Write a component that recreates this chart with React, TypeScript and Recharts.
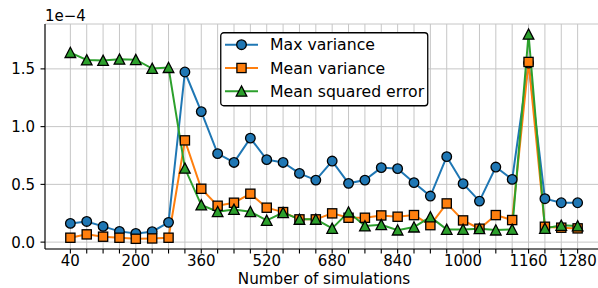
import { CartesianGrid, Legend, Line, LineChart, XAxis, YAxis } from 'recharts'

const simulations = [
  40, 80, 120, 160, 200, 240, 280, 320, 360, 400, 440, 480, 520, 560, 600, 640,
  680, 720, 760, 800, 840, 880, 920, 960, 1000, 1040, 1080, 1120, 1160, 1200, 1240, 1280,
]
// values in units of 1e-4
const maxVariance = [
  0.162, 0.179, 0.136, 0.093, 0.075, 0.09, 0.171, 1.473, 1.13, 0.766, 0.69, 0.9, 0.714, 0.69, 0.595, 0.537,
  0.702, 0.509, 0.537, 0.645, 0.636, 0.515, 0.399, 0.74, 0.506, 0.355, 0.65, 0.543, 1.55, 0.376, 0.341, 0.341,
]
const meanVariance = [
  0.038, 0.067, 0.047, 0.038, 0.029, 0.032, 0.038, 0.881, 0.462, 0.315, 0.341, 0.419, 0.298, 0.26, 0.197, 0.197,
  0.249, 0.211, 0.211, 0.231, 0.22, 0.234, 0.147, 0.335, 0.188, 0.116, 0.234, 0.191, 1.56, 0.133, 0.125, 0.119,
]
const meanSquaredError = [
  1.641, 1.577, 1.572, 1.583, 1.58, 1.503, 1.511, 0.639, 0.321, 0.263, 0.283, 0.263, 0.188, 0.255, 0.197, 0.197,
  0.119, 0.26, 0.139, 0.151, 0.104, 0.13, 0.217, 0.11, 0.11, 0.116, 0.104, 0.11, 1.8, 0.119, 0.145, 0.139,
]
const xTickLabels = [40, 200, 360, 520, 680, 840, 1000, 1160, 1280]
const yTicks = [0, 0.5, 1.0, 1.5]

const data = simulations.map((n, i) => ({
  n,
  maxVariance: maxVariance[i],
  meanVariance: meanVariance[i],
  mse: meanSquaredError[i],
}))

// matplotlib-style 5% margins
const allValues = [...maxVariance, ...meanVariance, ...meanSquaredError]
const yMin = Math.min(...allValues)
const yMax = Math.max(...allValues)
const yPad = (yMax - yMin) * 0.05
const xFirst = simulations[0]
const xLast = simulations[simulations.length - 1]
const xPad = (xLast - xFirst) * 0.05

const FONT = 'DejaVu Sans'

type Shape = 'circle' | 'square' | 'triangle'

const Marker = ({ cx, cy, fill, shape }: { cx: number; cy: number; fill: string; shape: Shape }) => {
  if (shape === 'circle')
    return <circle cx={cx} cy={cy} r={4.8} fill={fill} stroke="#000" strokeWidth={1.3} />
  if (shape === 'square')
    return <rect x={cx - 4.6} y={cy - 4.6} width={9.2} height={9.2} fill={fill} stroke="#000" strokeWidth={1.3} />
  return (
    <polygon
      points={`${cx},${cy - 5.3} ${cx - 5.3},${cy + 4.9} ${cx + 5.3},${cy + 4.9}`}
      fill={fill}
      stroke="#000"
      strokeWidth={1.3}
      strokeLinejoin="miter"
    />
  )
}

const series: Array<{ key: string; name: string; color: string; shape: Shape }> = [
  { key: 'maxVariance', name: 'Max variance', color: '#1f77b4', shape: 'circle' },
  { key: 'meanVariance', name: 'Mean variance', color: '#ff7f0e', shape: 'square' },
  { key: 'mse', name: 'Mean squared error', color: '#2ca02c', shape: 'triangle' },
]

const XTick = ({ x, y, payload }: any) =>
  xTickLabels.includes(payload.value) ? (
    <text x={x} y={y} dy="0.71em" textAnchor="middle" fontSize={15} fontFamily={FONT} fill="#000">
      {payload.value}
    </text>
  ) : (
    <g />
  )

const YTick = ({ x, y, payload }: any) => (
  <text x={x} y={y} dy="0.36em" textAnchor="end" fontSize={15} fontFamily={FONT} fill="#000">
    {payload.value.toFixed(1)}
  </text>
)

const LegendBox = () => (
  <svg width={209} height={75} style={{ display: 'block' }}>
    <rect x={0.75} y={0.75} width={207} height={73} rx={3} fill="#fff" stroke="#000" strokeWidth={1.3} />
    {series.map((s, i) => {
      const cy = 12.7 + i * 23.3
      return (
        <g key={s.key}>
          <line x1={5} x2={38} y1={cy} y2={cy} stroke={s.color} strokeWidth={2} />
          <Marker cx={21.5} cy={cy} fill={s.color} shape={s.shape} />
          <text x={50} y={cy} dy="0.36em" fontSize={15.7} fontFamily={FONT} fill="#000">
            {s.name}
          </text>
        </g>
      )
    })}
  </svg>
)

export default function App() {
  return (
    <div style={{ position: 'absolute', left: 0, top: 0, width: 598, height: 288, overflow: 'hidden', background: '#fff' }}>
      <LineChart width={620} height={288} data={data} margin={{ top: 24, right: 17, left: 0, bottom: 0 }}>
        <CartesianGrid stroke="#c6c6c6" strokeWidth={1} />
        <XAxis
          dataKey="n"
          type="number"
          domain={[xFirst - xPad, xLast + xPad]}
          ticks={simulations}
          interval={0}
          height={39}
          tick={<XTick />}
          tickSize={4.5}
          tickMargin={2.2}
          stroke="#000"
          axisLine={{ stroke: '#000', strokeWidth: 1.1 }}
          tickLine={{ stroke: '#000', strokeWidth: 1.1 }}
          label={({ viewBox }: any) => (
            <text
              x={viewBox.x + viewBox.width / 2}
              y={viewBox.y + 35.3}
              textAnchor="middle"
              fontSize={15.2}
              fontFamily={FONT}
              fill="#000"
            >
              Number of simulations
            </text>
          )}
        />
        <XAxis
          xAxisId="top"
          orientation="top"
          dataKey="n"
          type="number"
          domain={[xFirst - xPad, xLast + xPad]}
          height={0}
          tick={false}
          tickLine={false}
          axisLine={{ stroke: '#000', strokeWidth: 1.1 }}
        />
        <YAxis
          type="number"
          domain={[yMin - yPad, yMax + yPad]}
          ticks={yTicks}
          interval={0}
          width={45}
          tick={<YTick />}
          tickSize={4.5}
          tickMargin={5.5}
          axisLine={{ stroke: '#000', strokeWidth: 1.1 }}
          tickLine={{ stroke: '#000', strokeWidth: 1.1 }}
          label={({ viewBox }: any) => (
            <text x={viewBox.x + viewBox.width} y={viewBox.y - 3} fontSize={15} fontFamily={FONT} fill="#000">
              1e−4
            </text>
          )}
        />
        <Legend
          layout="vertical"
          align="center"
          verticalAlign="middle"
          wrapperStyle={{ left: 220, top: 32, width: 209, height: 75 }}
          content={() => <LegendBox />}
        />
        {series.map((s) => (
          <Line
            key={s.key}
            dataKey={s.key}
            name={s.name}
            stroke={s.color}
            strokeWidth={2}
            isAnimationActive={false}
            activeDot={false}
            dot={(p: any) => <Marker key={`${s.key}-${p.index}`} cx={p.cx} cy={p.cy} fill={s.color} shape={s.shape} />}
          />
        ))}
      </LineChart>
    </div>
  )
}
